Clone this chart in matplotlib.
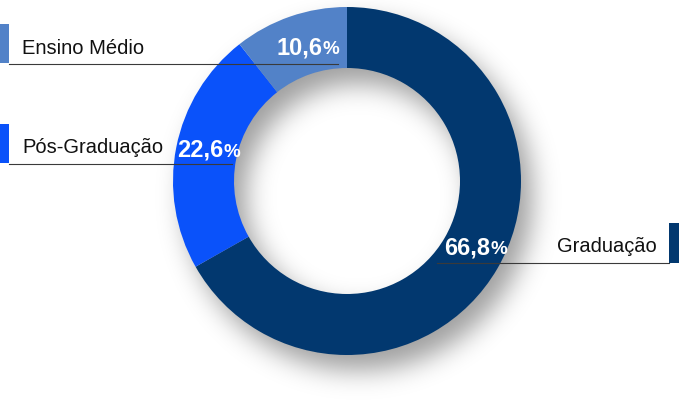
import numpy as np
import matplotlib
matplotlib.use('Agg')
import matplotlib.pyplot as plt
from matplotlib import font_manager
from matplotlib.patches import Rectangle

# ---- data ----
categories = ['Graduação', 'Pós-Graduação', 'Ensino Médio']
values = [66.8, 22.6, 10.6]
pct_labels = ['66,8', '22,6', '10,6']
colors = ['#02386F', '#0A52FA', '#5282C8']

W, H = 679, 407
CX, CY, R_OUT, R_IN = 347, 181, 174, 113


def pick_font(names, weight='normal'):
    for n in names:
        try:
            font_manager.findfont(font_manager.FontProperties(family=n, weight=weight),
                                  fallback_to_default=False)
            return n
        except Exception:
            continue
    return 'DejaVu Sans'

label_font = pick_font(['Liberation Sans', 'Roboto', 'DejaVu Sans'])
pct_font = pick_font(['Liberation Sans', 'Roboto', 'DejaVu Sans'], 'bold')

fig = plt.figure(figsize=(W / 100, H / 100), dpi=100)
ax = fig.add_axes([0, 0, 1, 1])

# ---- soft drop shadow (blurred, offset ring) ----
yy, xx = np.mgrid[0:H, 0:W]
dx, dy = 11, 15
rr = np.hypot(xx - (CX + dx), yy - (CY + dy))
mask = ((rr <= R_OUT) & (rr >= R_IN)).astype(float)
sigma = 13.0
k = np.arange(-45, 46)
g = np.exp(-k ** 2 / (2 * sigma ** 2)); g /= g.sum()
blur = np.apply_along_axis(lambda r: np.convolve(r, g, mode='same'), 1, mask)
blur = np.apply_along_axis(lambda c: np.convolve(c, g, mode='same'), 0, blur)
rgba = np.zeros((H, W, 4))
rgba[..., 3] = 0.38 * blur
ax.imshow(rgba, extent=[0, W, H, 0], origin='upper', zorder=0, interpolation='bilinear')

# ---- donut ----
wedges, _ = ax.pie(values, colors=colors, startangle=-90, counterclock=True,
                   radius=R_OUT, center=(CX, CY),
                   wedgeprops=dict(width=R_OUT - R_IN, linewidth=0))
for w in wedges:
    w.set_zorder(2)

ax.set_xlim(0, W)
ax.set_ylim(H, 0)
ax.set_aspect('equal', adjustable='box')
ax.axis('off')

line_col = '#3a3a3a'
# legend markers, leader lines, labels
# Ensino Médio
ax.add_patch(Rectangle((0, 24), 9, 39, color=colors[2], zorder=3, lw=0))
ax.plot([9, 338], [64, 64], color=line_col, lw=0.8, zorder=4)
ax.text(22, 54, categories[2], fontsize=14.5, family=label_font, color='#111111',
        va='baseline', ha='left', zorder=5)
# Pós-Graduação
ax.add_patch(Rectangle((0, 124), 9, 39, color=colors[1], zorder=3, lw=0))
ax.plot([9, 232], [164, 164], color=line_col, lw=0.8, zorder=4)
ax.text(22, 153, categories[1], fontsize=14.5, family=label_font, color='#111111',
        va='baseline', ha='left', zorder=5)
# Graduação
ax.add_patch(Rectangle((669, 223), 10, 40, color=colors[0], zorder=3, lw=0))
ax.plot([437, 669], [263, 263], color=line_col, lw=0.8, zorder=4)
ax.text(657, 252, categories[0], fontsize=14.5, family=label_font, color='#111111',
        va='baseline', ha='right', zorder=5)

# percentage labels
pct_pos = {0: (490, 254), 1: (223, 157), 2: (322, 54)}
for i, lab in enumerate(pct_labels):
    x, y = pct_pos[i]
    ax.text(x, y, lab, fontsize=17, family=pct_font, weight='bold', color='white',
            ha='right', va='baseline', zorder=5)
    ax.text(x + 0.5, y, '%', fontsize=13.5, family=pct_font, weight='bold', color='white',
            ha='left', va='baseline', zorder=5)

fig.savefig('out.png', dpi=100, facecolor='white')
